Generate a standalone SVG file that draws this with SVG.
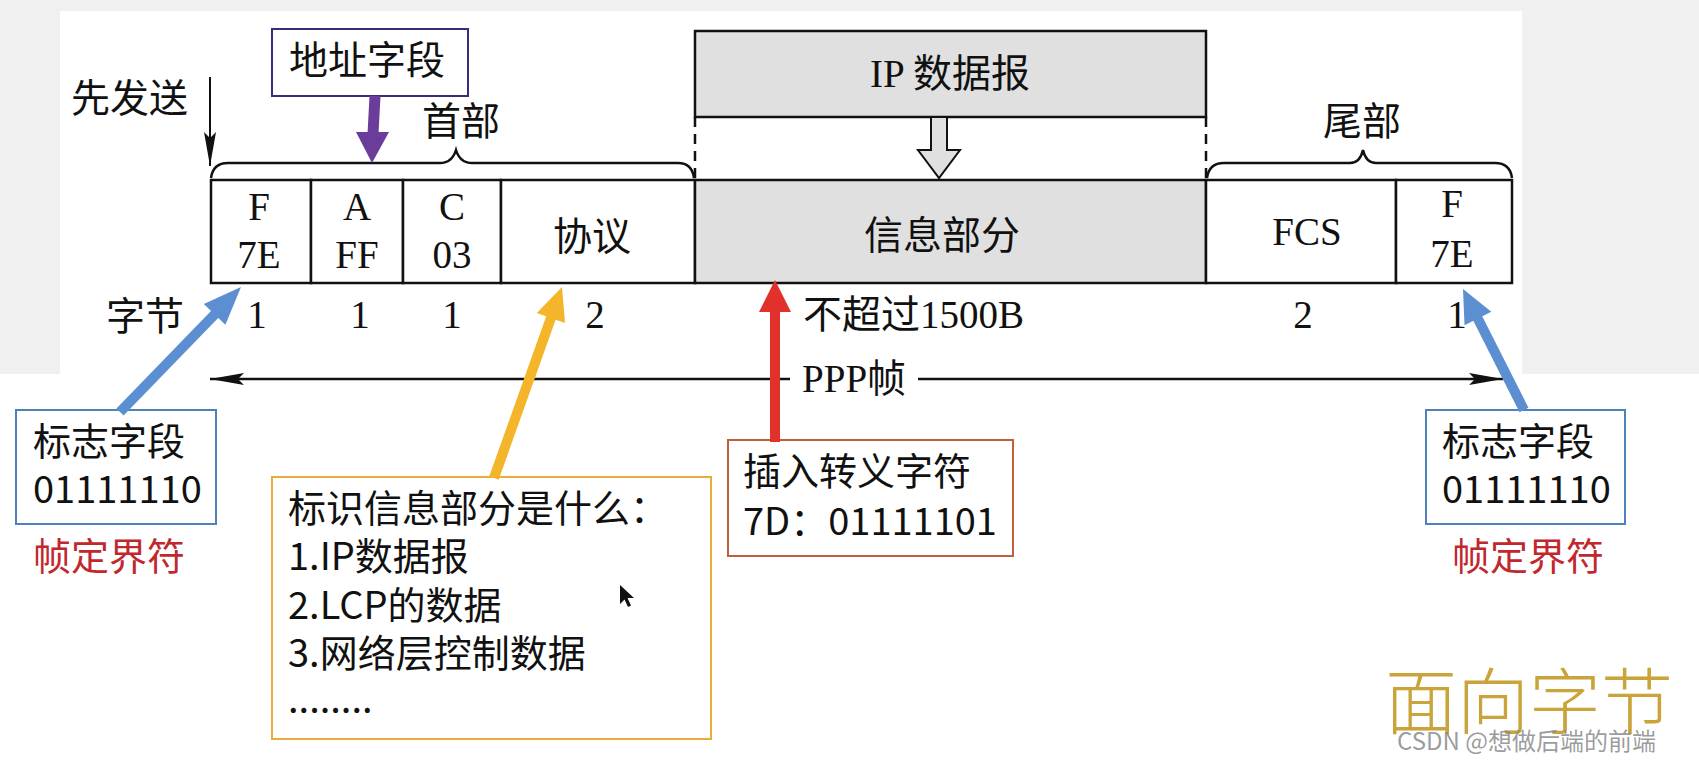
<svg xmlns="http://www.w3.org/2000/svg" width="1699" height="764" viewBox="0 0 1699 764">
<style>
.s{font-family:"Liberation Serif","Noto Sans CJK SC",serif;font-size:39px;fill:#111;}
.c{font-family:"Noto Sans CJK SC","Noto Sans",sans-serif;font-size:38px;fill:#111;}
.red{fill:#c0282d;}
.cell{fill:#fff;stroke:#111;stroke-width:2.5;}
.gray{fill:#e0e0e0;stroke:#111;stroke-width:2.5;}
.ln{stroke:#111;stroke-width:2.5;fill:none;}
</style>
<defs>
<marker id="ah" viewBox="0 0 34 12" refX="34" refY="6" markerWidth="34" markerHeight="12" markerUnits="userSpaceOnUse" orient="auto-start-reverse">
<path d="M0,0 L34,6 L0,12 L6,6 z" fill="#111"/>
</marker>
</defs>
<rect x="0" y="0" width="1699" height="764" fill="#fff"/>
<rect x="0" y="0" width="1699" height="11" fill="#f0f0f0"/>
<rect x="0" y="0" width="60" height="374" fill="#f0f0f0"/>
<rect x="1522" y="0" width="177" height="374" fill="#f0f0f0"/>

<g id="ip-datagram">
<rect x="695" y="31" width="511" height="86" class="gray"/>
<text x="950" y="87" class="s" text-anchor="middle">IP 数据报</text>
</g>

<g id="frame">
<rect x="211" y="180" width="100" height="103" class="cell"/>
<rect x="311" y="180" width="92" height="103" class="cell"/>
<rect x="403" y="180" width="98" height="103" class="cell"/>
<rect x="501" y="180" width="194" height="103" class="cell"/>
<rect x="695" y="180" width="511" height="103" class="gray"/>
<rect x="1206" y="180" width="190" height="103" class="cell"/>
<rect x="1396" y="180" width="116" height="103" class="cell"/>
<text x="259" y="220" class="s" text-anchor="middle">F</text>
<text x="259" y="268" class="s" text-anchor="middle">7E</text>
<text x="357" y="220" class="s" text-anchor="middle">A</text>
<text x="357" y="268" class="s" text-anchor="middle">FF</text>
<text x="452" y="220" class="s" text-anchor="middle">C</text>
<text x="452" y="268" class="s" text-anchor="middle">03</text>
<text x="592" y="250" class="s" text-anchor="middle">协议</text>
<text x="942" y="249" class="s" text-anchor="middle">信息部分</text>
<text x="1307" y="245" class="s" text-anchor="middle">FCS</text>
<text x="1452" y="217" class="s" text-anchor="middle">F</text>
<text x="1452" y="267" class="s" text-anchor="middle">7E</text>
</g>

<g id="header-brace">
<path class="ln" d="M211,178 Q213,163 228,163 L440,163 Q452,163 456,150 Q460,163 472,163 L678,163 Q692,163 694,178"/>
<text x="461" y="135" class="s" text-anchor="middle">首部</text>
</g>

<g id="tail-brace">
<path class="ln" d="M1207,178 Q1209,163 1224,163 L1350,163 Q1360,163 1363,150 Q1366,163 1376,163 L1495,163 Q1510,163 1512,178"/>
<text x="1362" y="135" class="s" text-anchor="middle">尾部</text>
</g>

<g id="send-first">
<text x="71" y="112" class="s">先发送</text>
</g>

<g id="bytes-row">
<text x="106" y="330" class="s">字节</text>
<text x="257" y="328" class="s" text-anchor="middle">1</text>
<text x="360" y="328" class="s" text-anchor="middle">1</text>
<text x="452" y="328" class="s" text-anchor="middle">1</text>
<text x="595" y="328" class="s" text-anchor="middle">2</text>
<text x="803" y="328" class="s">不超过1500B</text>
<text x="1303" y="328" class="s" text-anchor="middle">2</text>
<text x="1457" y="328" class="s" text-anchor="middle">1</text>
</g>

<g id="ppp-label">
<text x="802" y="392" class="s">PPP帧</text>
</g>

<g id="address-box">
<rect x="272" y="29" width="196" height="67" fill="#fff" stroke="#3d2b7a" stroke-width="2"/>
<text x="289" y="74" class="s">地址字段</text>
</g>

<g id="flag-box-left">
<rect x="16" y="410" width="200" height="114" fill="#fff" stroke="#4f81bd" stroke-width="2"/>
<text x="33" y="455" class="c">标志字段</text>
<text x="33" y="503" class="c">01111110</text>
<text x="33" y="570" class="c red">帧定界符</text>
</g>

<g id="flag-box-right">
<rect x="1426" y="410" width="199" height="114" fill="#fff" stroke="#4f81bd" stroke-width="2"/>
<text x="1442" y="455" class="c">标志字段</text>
<text x="1442" y="503" class="c">01111110</text>
<text x="1452" y="570" class="c red">帧定界符</text>
</g>

<g id="protocol-box">
<rect x="272" y="477" width="439" height="262" fill="#fff" stroke="#e8ad3c" stroke-width="2"/>
<text x="288" y="522" class="c">标识信息部分是什么：</text>
<text x="288" y="570" class="c">1.IP数据报</text>
<text x="288" y="619" class="c">2.LCP的数据</text>
<text x="288" y="667" class="c">3.网络层控制数据</text>
<text x="288" y="713" class="c">........</text>
</g>

<g id="escape-box">
<rect x="728" y="440" width="285" height="116" fill="#fff" stroke="#c0603a" stroke-width="2"/>
<text x="743" y="485" class="c">插入转义字符</text>
<text x="743" y="535" class="c">7D：01111101</text>
</g>

<g id="connectors">
<line x1="695" y1="117" x2="695" y2="180" stroke="#111" stroke-width="2.5" stroke-dasharray="10,7"/>
<line x1="1206" y1="117" x2="1206" y2="180" stroke="#111" stroke-width="2.5" stroke-dasharray="10,7"/>
<polygon points="931,117 947,117 947,150 960,150 939,178 918,150 931,150" fill="#e0e0e0" stroke="#111" stroke-width="2"/>
<line x1="210" y1="77" x2="210" y2="166" stroke="#111" stroke-width="2" marker-end="url(#ah)"/>
<line x1="210" y1="379" x2="790" y2="379" stroke="#111" stroke-width="2.5" marker-start="url(#ah)"/>
<line x1="918" y1="379" x2="1503" y2="379" stroke="#111" stroke-width="2.5" marker-end="url(#ah)"/>
<line x1="375" y1="96" x2="373" y2="134" stroke="#6a3d9a" stroke-width="11"/>
<polygon points="356,132 389,132 372,163" fill="#6a3d9a"/>
<line x1="120" y1="412" x2="217" y2="312" stroke="#5b8fd1" stroke-width="10"/>
<polygon points="241,287 225.4,324.7 203.8,303.9" fill="#5b8fd1"/>
<line x1="1524" y1="410" x2="1477" y2="317" stroke="#5b8fd1" stroke-width="10"/>
<polygon points="1463,289 1491.3,311.7 1464.5,325.2" fill="#5b8fd1"/>
<line x1="494" y1="478" x2="552" y2="315" stroke="#f4b52a" stroke-width="10"/>
<polygon points="562,287 565,323.1 536.8,313.1" fill="#f4b52a"/>
<line x1="775" y1="442" x2="775" y2="310" stroke="#e2302b" stroke-width="10"/>
<polygon points="775,280 791,312 759,312" fill="#e2302b"/>
</g>

<g id="cursor">
<polygon points="620,585 620,604 624.5,599.5 628,607 631,605.5 627.5,598 634,598" fill="#111"/>
</g>

<g id="title">
<text x="1385" y="728" font-family="Noto Sans CJK SC, sans-serif" font-size="72" font-weight="300" fill="#c9a43a">面向字节</text>
<text x="1397" y="750" font-family="Noto Sans CJK SC, sans-serif" font-size="24" fill="#8a8a8a" fill-opacity="0.85">CSDN @想做后端的前端</text>
</g>
</svg>
